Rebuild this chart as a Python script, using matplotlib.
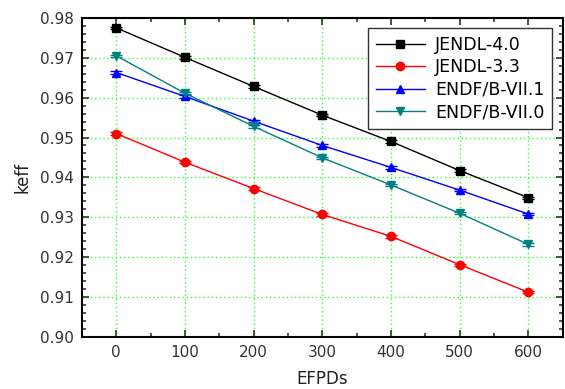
import numpy as np
import matplotlib
matplotlib.use("Agg")
import matplotlib.pyplot as plt
from matplotlib.ticker import MultipleLocator
from matplotlib.lines import Line2D

# burnup steps (effective full power days)
efpd = [0, 100, 200, 300, 400, 500, 600]

jendl40 = [0.9775, 0.9701, 0.9628, 0.9556, 0.9490, 0.9417, 0.9349]
jendl33 = [0.9510, 0.9438, 0.9372, 0.9307, 0.9252, 0.9181, 0.9112]
endf71 = [0.9663, 0.9603, 0.9541, 0.9480, 0.9425, 0.9368, 0.9308]
endf70 = [0.9705, 0.9611, 0.9528, 0.9449, 0.9381, 0.9310, 0.9232]
err = 0.0003

series = [
    ("JENDL-4.0", jendl40, "black", "s"),
    ("JENDL-3.3", jendl33, "red", "o"),
    ("ENDF/B-VII.1", endf71, "blue", "^"),
    ("ENDF/B-VII.0", endf70, "#008080", "v"),
]

fig = plt.figure(figsize=(5.65, 3.89), dpi=100)
ax = fig.add_axes([0.145, 0.134, 0.851, 0.820])

handles = []
for label, vals, color, marker in series:
    ax.errorbar(efpd, vals, yerr=err, color=color, marker=marker,
                markersize=6, linewidth=1.0, capsize=4, elinewidth=0.8)
    handles.append(Line2D([0], [0], color=color, marker=marker,
                          markersize=6, linewidth=1.0, label=label))

ax.set_xlim(-50, 650)
ax.set_ylim(0.90, 0.98)
ax.xaxis.set_major_locator(MultipleLocator(100))
ax.xaxis.set_minor_locator(MultipleLocator(50))
ax.yaxis.set_major_locator(MultipleLocator(0.01))
ax.yaxis.set_minor_locator(MultipleLocator(0.002))
ax.yaxis.set_major_formatter(matplotlib.ticker.FormatStrFormatter("%.2f"))

ax.tick_params(which="both", direction="in", top=True, right=True,
               labelsize=11, colors="#333333", width=1.2)
ax.tick_params(which="major", length=5, pad=6)
ax.tick_params(which="minor", length=3)
for s in ax.spines.values():
    s.set_linewidth(1.5)

ax.grid(True, which="major", color="#33ff33", linestyle=(0, (1, 2)),
        linewidth=1.0)
ax.set_axisbelow(True)

ax.set_xlabel("EFPDs", fontsize=12, labelpad=7, color="#222222")
ax.set_ylabel("keff", fontsize=12, labelpad=6, color="#222222")

leg = ax.legend(handles=handles, loc="upper right", fontsize=12.5,
                frameon=True, fancybox=False, edgecolor="#333333",
                framealpha=1, borderaxespad=0.6, handlelength=2.8,
                labelspacing=0.25, handletextpad=0.6, borderpad=0.45)
leg.get_frame().set_linewidth(1.0)

fig.savefig("out.png", dpi=100)
